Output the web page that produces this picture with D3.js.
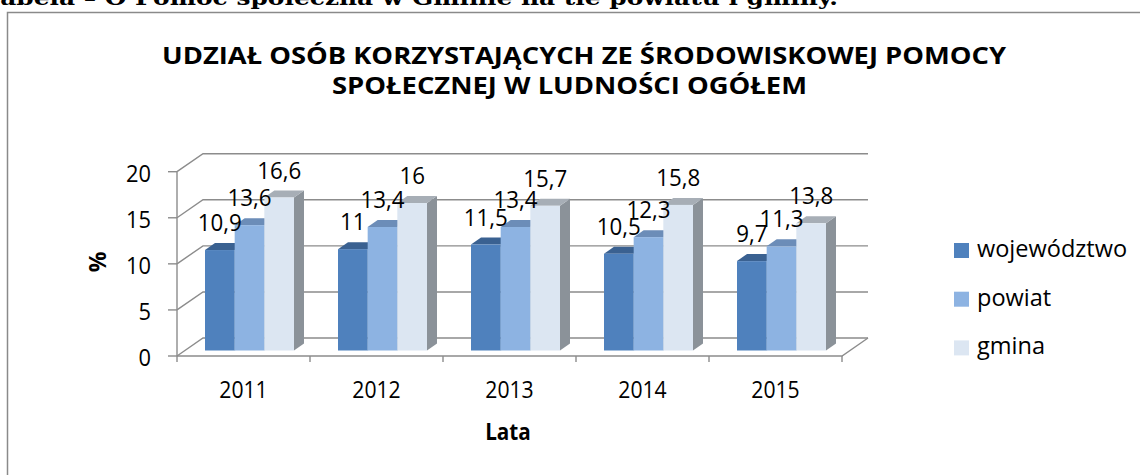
<!DOCTYPE html>
<html>
<head>
<meta charset="utf-8">
<script src="https://cdn.jsdelivr.net/npm/d3@7"></script>
<style>
  html, body { margin: 0; padding: 0; background: #fff; }
  svg { display: block; }
  text { font-family: "Open Sans", "Noto Sans", sans-serif; fill: #000; }
</style>
</head>
<body>
<svg id="chart" width="1140" height="475"></svg>
<script>
// ---- data ----
const years = ["2011", "2012", "2013", "2014", "2015"];
const seriesNames = ["województwo", "powiat", "gmina"];
const wojewodztwo = [10.9, 11, 11.5, 10.5, 9.7];
const powiat = [13.6, 13.4, 13.4, 12.3, 11.3];
const gmina = [16.6, 16, 15.7, 15.8, 13.8];
const yTicks = [0, 5, 10, 15, 20];
const labelsText = {
  caption: "Tabela – O Pomoc społeczna w Gminie na tle powiatu i gminy.",
  title1: "UDZIAŁ OSÓB KORZYSTAJĄCYCH ZE ŚRODOWISKOWEJ POMOCY",
  title2: "SPOŁECZNEJ W LUDNOŚCI OGÓŁEM",
  yTitle: "%",
  xTitle: "Lata"
};

const seriesValues = [wojewodztwo, powiat, gmina];
const colors = [
  { front: "#4F81BD", top: "#3A6191", side: "#385D8A" },
  { front: "#8DB3E2", top: "#6C8DB8", side: "#6F8DB3" },
  { front: "#DCE6F2", top: "#A7AEB6", side: "#8B9299" }
];

const svg = d3.select("#chart");

// horizontally squeeze a text (Calibri-like proportions)
function squeeze(sel, factor) {
  sel.each(function () {
    const L = this.getComputedTextLength();
    d3.select(this).attr("textLength", L * factor).attr("lengthAdjust", "spacingAndGlyphs");
  });
  return sel;
}

// chart frame
svg.append("rect").attr("x", 7.5).attr("y", 12.5).attr("width", 1200).attr("height", 600)
  .attr("fill", "none").attr("stroke", "#8a8a8a").attr("stroke-width", 1.5);

// caption (cut at the top)
svg.append("text").attr("x", -16).attr("y", 5)
  .attr("textLength", 854).attr("lengthAdjust", "spacingAndGlyphs")
  .style("font-family", "'DejaVu Serif', serif").style("font-weight", "bold").style("font-size", "20px")
  .text(labelsText.caption);

// title
svg.append("text").attr("x", 584).attr("y", 64).attr("text-anchor", "middle")
  .attr("textLength", 844).attr("lengthAdjust", "spacingAndGlyphs")
  .style("font-weight", "bold").style("font-size", "22.5px").text(labelsText.title1);
svg.append("text").attr("x", 569.5).attr("y", 94).attr("text-anchor", "middle")
  .attr("textLength", 475).attr("lengthAdjust", "spacingAndGlyphs")
  .style("font-weight", "bold").style("font-size", "22.5px").text(labelsText.title2);

// scales
const x0 = 177, x1 = 842;
const DX = 26, DY = -18;            // full depth of floor
const y = d3.scaleLinear().domain([0, 20]).range([356, 171.7]);
const x = d3.scaleBand().domain(years).range([x0, x1]).paddingInner(0).paddingOuter(0);
const cw = x.bandwidth();
const xs = d3.scaleBand().domain(seriesNames).range([21, cw - 23]).padding(0);
const bw = xs.bandwidth();
const bx = 7, by = -5.5;            // bar front plane offset
const ddx = 10, ddy = -7;           // bar depth

const gridColor = "#8c8c8c";
const grid = svg.append("g").attr("stroke", gridColor).attr("stroke-width", 1.4).attr("fill", "none");

yTicks.forEach(t => {
  const yy = y(t);
  grid.append("path").attr("d", `M${x0},${yy} L${x0 + DX},${yy + DY} L${x1 + DX},${yy + DY}`);
});
grid.append("path").attr("d", `M${x0},${y(0)} L${x1},${y(0)} L${x1 + DX},${y(0) + DY}`);
grid.append("path").attr("d", `M${x0},${y(20)} L${x0},${y(0)}`);
yTicks.forEach(t => {
  grid.append("path").attr("d", `M${x0 - 9},${y(t)} L${x0},${y(t)}`);
});
years.concat(["end"]).forEach((yr, i) => {
  const xx = x0 + i * cw;
  grid.append("path").attr("d", `M${xx},${y(0)} L${xx},${y(0) + 6}`);
});

// y tick labels
squeeze(svg.append("g").selectAll("text").data(yTicks).join("text")
  .attr("x", 151).attr("y", d => y(d) + 1).attr("text-anchor", "end")
  .attr("dominant-baseline", "central").style("font-size", "23px").text(d => d), 0.95);

// x tick labels
squeeze(svg.append("g").selectAll("text").data(years).join("text")
  .attr("x", d => x(d) + cw / 2).attr("y", 398).attr("text-anchor", "middle")
  .style("font-size", "23px").text(d => d), 0.92);

// axis titles
squeeze(svg.append("text").attr("x", 508).attr("y", 440).attr("text-anchor", "middle")
  .style("font-weight", "bold").style("font-size", "23px").text(labelsText.xTitle), 0.9);
svg.append("text").attr("transform", "translate(106,262) rotate(-90)").attr("text-anchor", "middle")
  .style("font-weight", "bold").style("font-size", "23px").text(labelsText.yTitle);

// bars
const bars = svg.append("g");
years.forEach((yr, i) => {
  seriesNames.forEach((s, j) => {
    const v = seriesValues[j][i];
    const c = colors[j];
    const bxl = x(yr) + xs(s) + bx;
    const yt = y(v) + by;
    const yb = y(0) + by;
    const g = bars.append("g");
    g.append("path").attr("fill", c.side)
      .attr("d", `M${bxl + bw},${yt} L${bxl + bw + ddx},${yt + ddy} L${bxl + bw + ddx},${yb + ddy} L${bxl + bw},${yb} Z`);
    g.append("path").attr("fill", c.top)
      .attr("d", `M${bxl},${yt} L${bxl + ddx},${yt + ddy} L${bxl + bw + ddx},${yt + ddy} L${bxl + bw},${yt} Z`);
    g.append("rect").attr("x", bxl).attr("y", yt).attr("width", bw).attr("height", yb - yt).attr("fill", c.front);
  });
});

// data labels
const lab = svg.append("g");
years.forEach((yr, i) => {
  seriesNames.forEach((s, j) => {
    const v = seriesValues[j][i];
    const cx = x(yr) + xs(s) + bx + bw / 2;
    squeeze(lab.append("text").attr("x", cx).attr("y", y(v) + by - 19).attr("text-anchor", "middle")
      .style("font-size", "23px").text(String(v).replace(".", ",")), 0.97);
  });
});

// legend
const leg = svg.append("g");
seriesNames.forEach((s, j) => {
  const ly = 243 + j * 48.7;
  leg.append("rect").attr("x", 954).attr("y", ly).attr("width", 15).attr("height", 15).attr("fill", colors[j].front);
  squeeze(leg.append("text").attr("x", 977).attr("y", ly + 14).style("font-size", "24px").text(s), 0.98);
});
</script>
</body>
</html>
